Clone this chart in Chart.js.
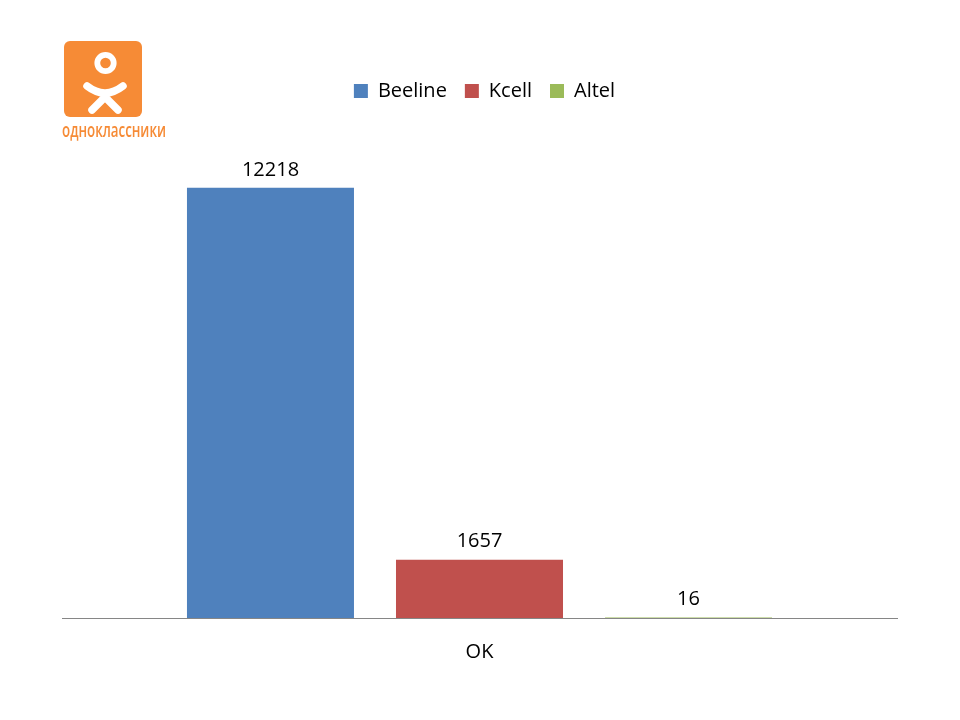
<!DOCTYPE html>
<html>
<head>
<meta charset="utf-8">
<script src="https://cdn.jsdelivr.net/npm/chart.js@4"></script>
<style>
html,body{margin:0;padding:0;background:#fff;}
#wrap{position:relative;width:960px;height:720px;}
#logo{position:absolute;left:0;top:0;}
</style>
</head>
<body>
<div id="wrap">
<canvas id="c" width="960" height="720"></canvas>
<svg id="logo" width="200" height="150" xmlns="http://www.w3.org/2000/svg">
  <rect x="64" y="41" width="78" height="76" rx="6" fill="#F68B36"/>
  <circle cx="105.5" cy="63" r="8.2" fill="none" stroke="#fff" stroke-width="5.8"/>
  <path d="M87 86 Q105 100 123 86" fill="none" stroke="#fff" stroke-width="7.5" stroke-linecap="round"/>
  <path d="M92 110 L105 97 L118 110" fill="none" stroke="#fff" stroke-width="7.5" stroke-linecap="round" stroke-linejoin="round"/>
  <text x="62" y="137" font-family="Open Sans, sans-serif" font-weight="600" font-size="19" fill="#F68B36" textLength="104" lengthAdjust="spacingAndGlyphs">одноклассники</text>
</svg>
</div>
<script>
const categories = ["OK"];
const seriesNames = ["Beeline", "Kcell", "Altel"];
const beeline = [12218];
const kcell = [1657];
const altel = [16];
const colors = ["#4F81BD", "#C0504D", "#9BBB59"];

const FONT = "Open Sans";

const labelPlugin = {
  id: "barLabels",
  afterLayout(chart) {
    if (chart.legend) { chart.legend.left += 5; chart.legend.right += 5; }
  },
  afterDatasetsDraw(chart) {
    const ctx = chart.ctx;
    ctx.save();
    ctx.font = "20px '" + FONT + "'";
    ctx.fillStyle = "#000";
    ctx.textAlign = "center";
    ctx.textBaseline = "bottom";
    chart.data.datasets.forEach((ds, i) => {
      const meta = chart.getDatasetMeta(i);
      meta.data.forEach((bar, j) => {
        ctx.fillText(String(ds.data[j]), bar.x, bar.y - 8);
      });
    });
    ctx.restore();
  }
};

new Chart(document.getElementById("c"), {
  type: "bar",
  data: {
    labels: categories,
    datasets: [
      { label: seriesNames[0], data: beeline, backgroundColor: colors[0] },
      { label: seriesNames[1], data: kcell, backgroundColor: colors[1] },
      { label: seriesNames[2], data: altel, backgroundColor: colors[2] }
    ]
  },
  options: {
    responsive: false,
    animation: false,
    devicePixelRatio: 1,
    categoryPercentage: 0.751,
    barPercentage: 0.799,
    layout: { padding: { left: 62, right: 63, top: 63, bottom: 42 } },
    plugins: {
      legend: {
        display: true,
        position: "top",
        labels: {
          boxWidth: 14, boxHeight: 14, padding: 18,
          color: "#000",
          font: { family: FONT, size: 20 }
        }
      },
      tooltip: { enabled: false },
      title: { display: false }
    },
    scales: {
      x: {
        grid: { display: false },
        border: { display: true, color: "#868686", width: 1 },
        ticks: { color: "#000", font: { family: FONT, size: 20 }, padding: 14 }
      },
      y: {
        display: false,
        min: 0,
        max: 14400
      }
    }
  },
  plugins: [labelPlugin]
});
</script>
</body>
</html>
